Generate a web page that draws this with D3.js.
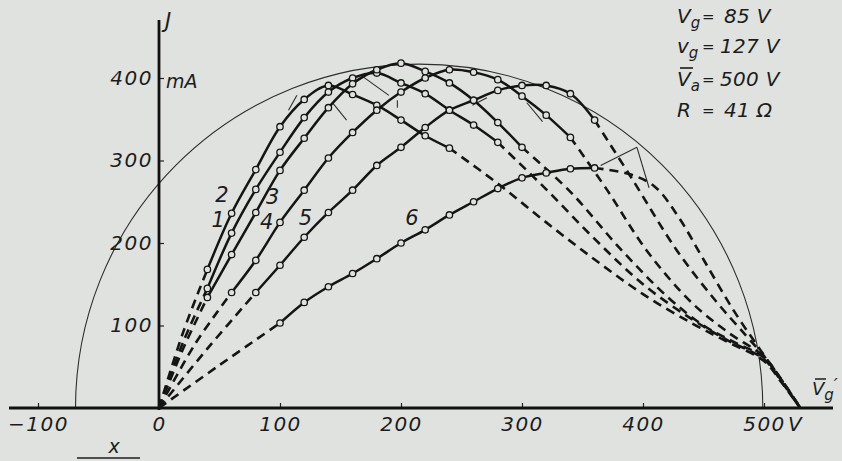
<!DOCTYPE html>
<html>
<head>
<meta charset="utf-8">
<script src="https://d3js.org/d3.v7.min.js"></script>
<style>
  body { margin: 0; background: #dfe2de; }
  svg { display: block; }
  text { font-family: "DejaVu Sans", sans-serif; font-style: italic; fill: #1c1c1c; }
  .curve { fill: none; stroke: #151515; stroke-width: 2.5; stroke-linejoin: round; }
  .dash { stroke-dasharray: 9 6; stroke-width: 2.6; }
  .thin { fill: none; stroke: #2e2e2e; stroke-width: 1.1; }
  .mark { fill: #dfe2de; stroke: #151515; stroke-width: 1.3; }
  .axis { stroke: #111; stroke-width: 2.8; }
</style>
</head>
<body>
<svg></svg>
<script>
// anode current J (mA) against grid voltage Vg' (V), six measured curves
const curve1 = [[0,0],[20,80],[40,145],[60,212],[80,265],[100,310],[120,352],[140,383],[160,400],[180,406],[200,394],[220,381],[240,361],[260,343],[280,322],[320,265],[360,205],[400,150],[440,108],[470,82],[500,59],[515,31],[530,0]];
const curve2 = [[0,0],[20,92],[40,168],[60,236],[80,289],[100,341],[120,374],[140,391],[160,380],[180,367],[200,349],[220,330],[240,315],[280,272],[320,225],[360,180],[400,138],[440,103],[470,80],[500,57],[515,30],[530,0]];
const curve3 = [[0,0],[20,72],[40,134],[60,186],[80,237],[100,288],[120,327],[140,364],[160,393],[180,410],[200,418],[220,408],[240,394],[260,373],[280,346],[300,316],[340,262],[380,195],[420,135],[450,100],[475,80],[500,61],[515,32],[530,0]];
const curve4 = [[0,0],[30,78],[60,140],[80,179],[100,225],[120,264],[140,303],[160,334],[180,361],[200,383],[220,400],[240,410],[260,407],[280,398],[300,378],[320,355],[340,328],[370,265],[403,191],[440,128],[470,92],[500,62],[515,33],[530,0]];
const curve5 = [[0,0],[40,72],[80,140],[100,173],[120,207],[140,237],[160,264],[180,294],[200,316],[220,340],[240,361],[260,373],[280,385],[300,391],[320,391],[340,381],[360,349],[390,280],[428,191],[460,130],[485,88],[500,63],[515,33],[530,0]];
const curve6 = [[0,0],[50,52],[100,103],[120,128],[140,147],[160,163],[180,181],[200,200],[220,216],[240,234],[260,250],[280,266],[300,279],[320,285],[340,290],[360,291],[390,283],[410,268],[430,230],[450,180],[475,118],[500,64],[515,33],[530,0]];

const curves = [curve1, curve2, curve3, curve4, curve5, curve6];
const solidFrom = [40, 40, 40, 60, 80, 100];
const solidTo = [280, 240, 300, 340, 360, 360];

const curveLabels = ["1", "2", "3", "4", "5", "6"];
const labelAt = [[49,228],[52,258],[94,256],[89,225],[121,230],[209,230]];

// thin construction strokes near the maxima, [V, mA]
const thinSegs = [
  [[395,316],[365,294]], [[395,316],[405,267]], [[304,370],[317,347]],
  [[169,401],[190,379]], [[144,369],[155,349]], [[114,379],[107,361]],
  [[259,367],[271,376]], [[197,373],[197,364]]
];

// outer circle through the working points
const arcCenter = 215, arcHalfWidth = 284, arcHeight = 417;

const xTicks = [-100, 0, 100, 200, 300, 400, 500];
const xTickText = ["\u2212100", "0", "100", "200", "300", "400", "500"];
const yTicks = [100, 200, 300, 400];

const params = [
  { n: "V", sub: "g", val: "85 V", bar: false },
  { n: "v", sub: "g", val: "127 V", bar: false },
  { n: "V", sub: "a", val: "500 V", bar: true },
  { n: "R", sub: "", val: "41 \u03A9", bar: false }
];

const W = 842, H = 461;
const svg = d3.select("svg").attr("width", W).attr("height", H);

const xs = d3.scaleLinear().domain([0, 500]).range([159, 764]);
const ys = d3.scaleLinear().domain([0, 400]).range([408, 78]);

// circle
const rx = xs(arcHalfWidth) - xs(0), ry = ys(0) - ys(arcHeight);
svg.append("path").attr("class", "thin")
  .attr("d", "M" + xs(arcCenter - arcHalfWidth) + "," + ys(0) +
             " A" + rx + "," + ry + " 0 0 1 " + xs(arcCenter + arcHalfWidth) + "," + ys(0));

thinSegs.forEach(s => {
  svg.append("line").attr("class", "thin")
    .attr("x1", xs(s[0][0])).attr("y1", ys(s[0][1]))
    .attr("x2", xs(s[1][0])).attr("y2", ys(s[1][1]));
});

// axes
const xAxis = svg.append("g").attr("transform", "translate(0," + ys(0) + ")")
  .call(d3.axisBottom(xs).tickValues(xTicks).tickSize(-5).tickPadding(9)
        .tickFormat((d, i) => xTickText[i]));
xAxis.select(".domain").remove();
xAxis.selectAll(".tick line").attr("stroke", "#222").attr("stroke-width", 1.2);
xAxis.selectAll("text").attr("font-size", 20).attr("letter-spacing", 1.5)
  .attr("font-family", "DejaVu Sans").attr("fill", "#1c1c1c").attr("dy", "0.71em");

const yAxis = svg.append("g").attr("transform", "translate(" + xs(0) + ",0)")
  .call(d3.axisLeft(ys).tickValues(yTicks).tickSize(-5).tickPadding(6));
yAxis.select(".domain").remove();
yAxis.selectAll(".tick line").attr("stroke", "#222").attr("stroke-width", 1.2);
yAxis.selectAll("text").attr("font-size", 20).attr("letter-spacing", 1.5)
  .attr("font-family", "DejaVu Sans").attr("fill", "#1c1c1c");

svg.append("line").attr("class", "axis")
  .attr("x1", 9).attr("x2", 833).attr("y1", ys(0)).attr("y2", ys(0));
svg.append("line").attr("class", "axis")
  .attr("x1", xs(0)).attr("x2", xs(0)).attr("y1", 20).attr("y2", ys(0) + 2);

svg.append("text").attr("x", xs(500) + 24).attr("y", ys(0) + 23)
  .attr("font-size", 20).text("V");
svg.append("text").attr("x", 166).attr("y", ys(400) + 3)
  .attr("font-size", 19).attr("dominant-baseline", "central").text("mA");
svg.append("text").attr("x", 165).attr("y", 28).attr("font-size", 21).text("J");

// curves
const line = d3.line().x(d => xs(d[0])).y(d => ys(d[1]))
  .curve(d3.curveCatmullRom.alpha(0.5));

curves.forEach((c, i) => {
  const a = solidFrom[i], b = solidTo[i];
  const rise = c.filter(d => d[0] <= a);
  const mid = c.filter(d => d[0] >= a && d[0] <= b);
  const fall = c.filter(d => d[0] >= b);
  svg.append("path").attr("class", "curve dash").attr("d", line(rise));
  svg.append("path").attr("class", "curve dash").attr("d", line(fall));
  svg.append("path").attr("class", "curve").attr("d", line(mid));
});

curves.forEach((c, i) => {
  const mid = c.filter(d => d[0] >= solidFrom[i] && d[0] <= solidTo[i]);
  svg.selectAll(null).data(mid).enter().append("circle").attr("class", "mark")
    .attr("cx", d => xs(d[0])).attr("cy", d => ys(d[1])).attr("r", 3.2);
});

svg.selectAll(null).data(curveLabels).enter().append("text")
  .attr("x", (d, i) => xs(labelAt[i][0])).attr("y", (d, i) => ys(labelAt[i][1]))
  .attr("text-anchor", "middle").attr("dominant-baseline", "central")
  .attr("font-size", 21).text(d => d);

// parameter block
const baselines = [23, 53, 86, 117];
params.forEach((p, i) => {
  const t = svg.append("text").attr("x", 677).attr("y", baselines[i]).attr("font-size", 20);
  t.append("tspan").text(p.n);
  if (p.sub) t.append("tspan").attr("font-size", 15).attr("dy", 5).text(p.sub);
  svg.append("text").attr("x", 702).attr("y", baselines[i] - 1).attr("font-size", 15).text("=");
  svg.append("text").attr("x", i === 0 || i === 3 ? 724 : 720).attr("y", baselines[i])
    .attr("font-size", 20).attr("letter-spacing", 0.3).text(p.val);
  if (p.bar) svg.append("line").attr("stroke", "#1c1c1c").attr("stroke-width", 1.6)
    .attr("x1", 680).attr("x2", 693).attr("y1", baselines[i] - 18).attr("y2", baselines[i] - 18);
});

// abscissa name and x mark
const vg = svg.append("text").attr("x", 812).attr("y", 395).attr("font-size", 18);
vg.append("tspan").text("V");
vg.append("tspan").attr("font-size", 15).attr("dy", 5).text("g");
vg.append("tspan").attr("dy", -9).text("\u2032");
svg.append("line").attr("stroke", "#1c1c1c").attr("stroke-width", 1.5)
  .attr("x1", 815).attr("x2", 826).attr("y1", 379).attr("y2", 379);

svg.append("text").attr("x", 114).attr("y", 453).attr("text-anchor", "middle")
  .attr("font-size", 19).text("x");
svg.append("line").attr("stroke", "#1c1c1c").attr("stroke-width", 1.6)
  .attr("x1", 77).attr("x2", 140).attr("y1", 458).attr("y2", 458);
</script>
</body>
</html>
